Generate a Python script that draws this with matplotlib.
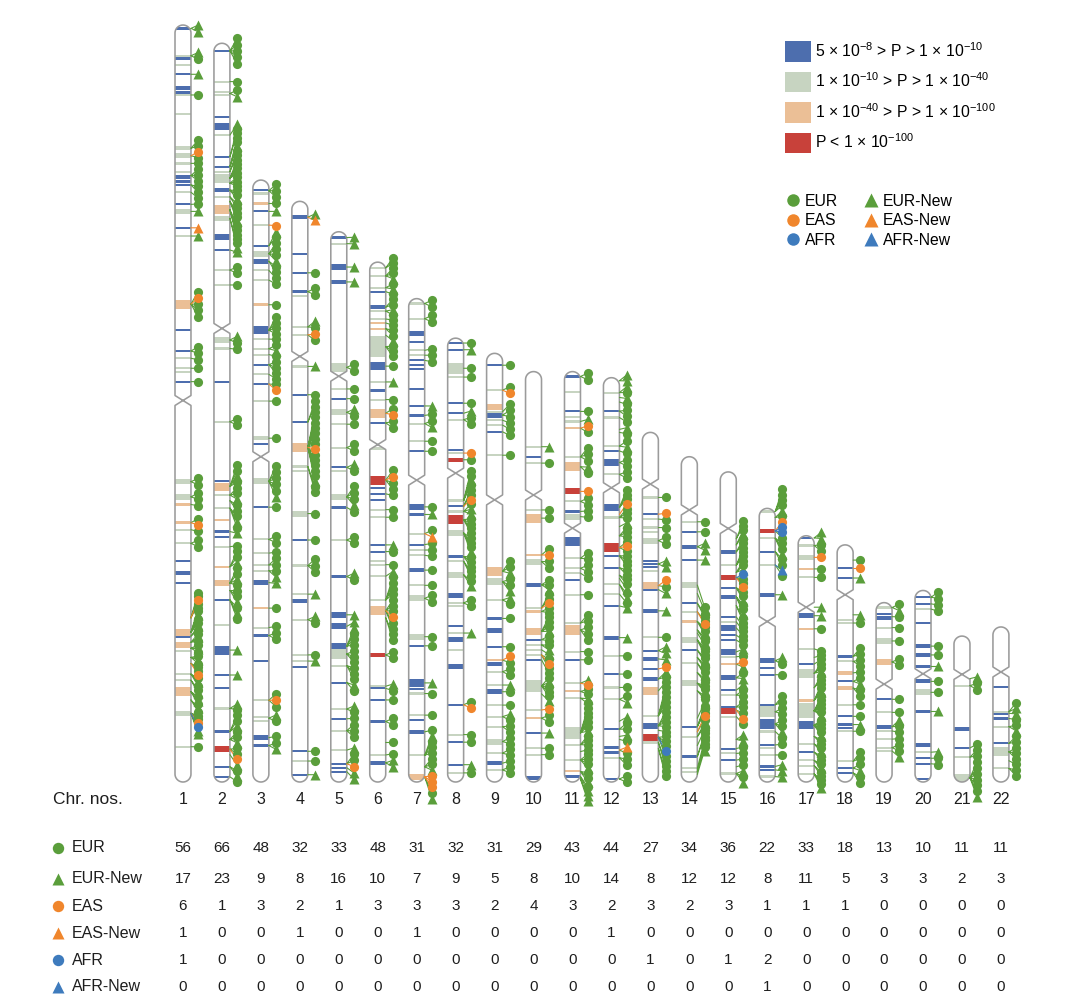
import numpy as np
import matplotlib
matplotlib.use('Agg')
import matplotlib.pyplot as plt
from matplotlib.path import Path
from matplotlib.patches import PathPatch, Patch
from matplotlib.lines import Line2D

plt.rcParams['font.family'] = ['Liberation Sans', 'DejaVu Sans']
plt.rcParams['mathtext.fontset'] = 'custom'
plt.rcParams['mathtext.rm'] = 'Liberation Sans'
plt.rcParams['mathtext.it'] = 'Liberation Sans'
plt.rcParams['mathtext.bf'] = 'Liberation Sans'

# ---------------- data ----------------
chrom_names = [str(i) for i in range(1, 23)]
chrom_length = [249, 243, 198, 191, 181, 171, 159, 146, 141, 135, 135, 133,
                115, 107, 102, 90, 81, 78, 59, 63, 48, 51]
centromere = [123.5, 93.8, 91, 51, 47.5, 60, 59.7, 44.4, 48.2, 40.6, 51.5, 36.2,
              17, 17.5, 18.6, 37.2, 23.5, 16.4, 26.8, 27.4, 12.6, 14.8]

# bands: (position Mb from pter, P-category[, width Mb])
bands = [
 [(1.1,'b',1.0),(10.1,'g'),(11.0,'b'),(13.2,'g'),(16.2,'b'),(20.6,'b',1.4),(22.2,'b',1.2),(23.0,'g'),(29.4,'g'),
  (40.5,'g',1.5),(43,'g',1.5),(45.5,'g',1.0),(48.3,'g'),(50.0,'b',1.5),(51.5,'b',1.2),(52.6,'b'),(54.8,'g'),(59,'b'),
  (61.3,'g',1.5),(66.7,'b'),(69.4,'g'),(91.8,'p',3),(100.3,'b'),(107.2,'b'),(109.6,'g'),(112.9,'g'),(114,'g'),(117.3,'b'),
  (150.2,'g',1.8),(155.2,'g',1.8),(157.7,'p'),(163.7,'p',1.0),(166,'g'),(170.5,'g'),(176.3,'b'),(180.2,'b',1.2),(183.5,'b'),
  (199.8,'p',2.5),(201.3,'b'),(203.9,'p',2),(206,'g'),(213.5,'g'),(215.5,'g'),(219.3,'p',3),(226.4,'g',1.8),(237.4,'g')],
 [(2.5,'b'),(12.6,'g'),(16.1,'g'),(17,'g'),(24.2,'b'),(27.4,'b',2.5),(30.2,'g'),(37.3,'b'),(40.6,'b'),(42.2,'g'),(44.4,'g',3),
  (48.3,'b',1.2),(50.5,'g'),(54.8,'p',3),(57.6,'g',1.5),(63.6,'b',2),(68,'b'),(74.6,'g'),(79.5,'g'),(97.6,'g',2),(100.4,'g'),
  (111.3,'b'),(124.5,'g'),(143.9,'b'),(145.9,'p',2.6),(148.6,'g'),(152.9,'g'),(156.8,'p'),(160.6,'b'),(162.3,'b'),(165.6,'g'),
  (172.2,'p'),(177.6,'p',2),(183.1,'b'),(191.4,'g'),(199.6,'b',3),(207.8,'b'),(212.2,'b'),(218.8,'g'),(226.4,'b'),
  (232.2,'r',1.8),(238,'b'),(241.3,'b')],
 [(3.2,'b'),(4.4,'g'),(7.7,'p'),(10.3,'b'),(14.8,'g'),(21.6,'b'),(24.2,'g',2),(26.7,'b',1.5),(29.7,'g'),(32.9,'g'),(41,'p',1.0),
  (49.4,'b',2.5),(52.3,'g'),(55.5,'g'),(57.4,'g'),(60.7,'b'),(63.9,'g'),(67.1,'b'),(72.7,'g'),(84.9,'g',1.5),(86.9,'b'),
  (99.1,'g',2),(107.6,'b'),(118.2,'g'),(122.7,'g'),(126.6,'g'),(128.5,'g'),(132.4,'b',1.5),(140.8,'p'),(147.2,'g'),(149.8,'b'),
  (158.2,'b'),(171.1,'g'),(176.6,'g'),(177.9,'g'),(183.4,'b',1.5),(186,'b')],
 [(5.2,'b',1.5),(17.4,'b'),(23.5,'b'),(29.7,'b',1.2),(31,'g'),(41.3,'g'),(43.9,'g'),(54.3,'g'),(63.6,'b'),(72.6,'b'),(80.9,'p',3),
  (87.2,'g'),(88.7,'g'),(102.7,'g',2),(111.4,'b'),(119.8,'g'),(129.2,'g'),(131.5,'b',1.5),(137.6,'g'),(149.2,'g'),(151.2,'g'),
  (153.1,'b'),(180.9,'b'),(184.1,'g'),(188.6,'b')],
 [(1.9,'b'),(3.9,'g'),(11.6,'b',2),(16.5,'b',1.3),(44.6,'g',3),(51.7,'g'),(54.9,'b'),(59.4,'g',2),(63.3,'g'),(71,'g'),(77.5,'b'),
  (78.8,'g'),(87.2,'g',2),(90.7,'b'),(101.4,'g'),(113.4,'b',1.3),(126,'b',2),(129.8,'b',2),(136.3,'b',2),(138.9,'g',3),(142.7,'g'),
  (148.3,'b'),(157,'g'),(160.2,'b'),(164.1,'g'),(170.5,'g'),(175,'b'),(176.3,'b'),(177.6,'b')],
 [(1.9,'g'),(4.5,'g'),(8.4,'g'),(9.7,'b'),(14.8,'b',1.5),(16.1,'g'),(18.7,'g'),(20,'p'),(21.9,'p'),(27.8,'g',7),(34.2,'b',2.5),
  (39.4,'g'),(42.2,'b'),(45.2,'g'),(49.7,'p',3),(52.9,'b'),(61.3,'g'),(71.7,'r',3),(74.3,'b'),(76.2,'b'),(78.1,'b'),(81.4,'g'),
  (83.9,'g'),(93,'b'),(95.2,'b'),(98.2,'g'),(99.5,'g'),(103.3,'g'),(111.1,'g'),(114.6,'p',3),(129.2,'r',1.5),(139.5,'g'),
  (140.2,'b'),(144,'b'),(151.1,'b'),(162.1,'g'),(164.7,'b',1.2)],
 [(1.6,'g'),(6.6,'g'),(11.5,'b',1.5),(14.2,'b'),(17,'g'),(18.6,'g'),(20.3,'b'),(21.7,'b'),(23,'b'),(29.6,'b'),(35.3,'b'),
  (38.4,'b',1.2),(41.1,'g'),(46.9,'g'),(50.2,'b'),(68.5,'b',2),(71,'b'),(77.3,'g'),(80.9,'b'),(82.7,'g'),(84.4,'g'),(89.3,'b',1.5),
  (94.3,'g'),(98.6,'g',2),(111.2,'g',2),(114.2,'b'),(126.4,'b',2.5),(128.3,'b'),(129.9,'g'),(137,'g'),(138.6,'b'),(142.5,'b',1.2),
  (150.2,'g'),(157.3,'p',2)],
 [(1.6,'b'),(3.8,'b'),(9.9,'g',3.5),(12.8,'g'),(21.4,'b'),(24.7,'b'),(26.8,'g'),(36.7,'b'),(37.8,'g'),(40,'r',1.2),(53.4,'g'),
  (55.3,'b'),(57,'g'),(59.7,'r',3),(64.1,'g',2),(71.8,'b'),(73.4,'g'),(77.8,'g',2),(84.7,'b',1.5),(87.1,'g'),(88.2,'g'),(94.6,'b'),
  (97,'g'),(99.2,'b',1.5),(102.5,'g'),(108,'b',1.5),(120.6,'b'),(130.4,'g'),(132.9,'b'),(140.3,'b'),(143,'g')],
 [(3.9,'b'),(12.1,'g'),(17.6,'p',2),(19.2,'g'),(20.5,'b',1.8),(22,'g'),(23.6,'g'),(25.8,'b'),(33.5,'g'),(71.7,'p',3),(75.1,'g',2.5),
  (81.1,'g'),(87.2,'b'),(91.2,'b',1.5),(96.5,'b'),(100.9,'p'),(102.2,'b',1.5),(104.7,'g'),(109.1,'g'),(111.3,'b',1.5),(115.7,'g'),
  (119.5,'g'),(122.8,'g'),(127.7,'g',2),(131.5,'g'),(134.8,'b',1.5),(137,'g')],
 [(24.7,'g'),(28,'b'),(30.1,'g'),(45.5,'g'),(48.2,'p',3),(60.3,'p'),(62.5,'g',2),(70.1,'b',1.2),(77.8,'g'),(78.9,'p'),(85.5,'p',2.5),
  (88.2,'b'),(89.9,'g'),(91.5,'g'),(93.2,'g'),(94.8,'b'),(103.4,'g',4),(111.3,'g'),(114,'p'),(118.9,'b'),(123.9,'g'),(126,'g'),
  (133.7,'b',1.5)],
 [(1.6,'b'),(6.6,'g'),(13.1,'b'),(14.8,'g'),(16.4,'g'),(18.6,'p'),(28,'g'),(31.3,'p',3),(39.4,'r',2),(42.7,'g'),(46,'b'),
  (47.7,'g',2),(55.9,'b',3),(61.4,'g'),(64.7,'g'),(66.3,'g'),(68.5,'b'),(73.4,'g'),(82.7,'g'),(85,'p',3),(92.1,'g'),(94.8,'b'),
  (102.5,'g'),(105.2,'p'),(107.4,'g'),(118.8,'g',4),(122.7,'g'),(127.7,'g'),(131.5,'p'),(133.2,'b')],
 [(4.9,'g'),(11,'b'),(13.1,'g'),(22.5,'g'),(24.1,'b'),(27.9,'b',2),(31.8,'g'),(42.7,'b',2.5),(46,'g'),(55.9,'r',3),(58.6,'b'),
  (62.5,'b'),(68,'g'),(71.2,'g'),(75.1,'b'),(85.5,'b',1.3),(91.5,'g'),(97.5,'b'),(101.9,'g'),(105.8,'g'),(115.6,'b'),
  (121.8,'b',1.0),(123.2,'b',1.0),(125,'g'),(132,'b')],
 [(21.4,'g'),(26.9,'b'),(28.5,'g'),(31.3,'g'),(32.9,'g'),(35.6,'g',2),(42.2,'b'),(43.3,'b'),(44.4,'b'),(45.5,'g'),(50.4,'p',2.5),
  (51.9,'b'),(58.7,'b',1.5),(67.4,'g'),(71.8,'b'),(74.5,'b',1.5),(77.8,'b'),(81.1,'b',1.5),(85,'p',2.5),(93.2,'g'),(96.5,'b',2),
  (100.3,'r',2.5),(102,'g')],
 [(21.4,'g'),(24.7,'b'),(29.6,'b',1.3),(34,'b'),(42.2,'g',2),(48.2,'b'),(51,'g'),(54.2,'p'),(60.3,'g',2),(63.6,'b'),(67.9,'g'),
  (74.5,'g',2),(88.8,'b'),(92.1,'g'),(98.6,'b'),(102.5,'g'),(103.6,'g')],
 [(26.3,'b',1.3),(30.7,'g'),(34.8,'r',1.8),(38.1,'b'),(41.1,'b',1.5),(47.7,'b'),(49.3,'g'),(51.3,'b',2),(53.7,'b'),(55.3,'b'),
  (59.2,'b',2),(60.8,'g'),(63.2,'p'),(67.7,'b',1.5),(71.8,'b'),(73.4,'g'),(77.3,'b'),(78.6,'r',2),(80.5,'g'),(91,'b'),(92.6,'g'),
  (94.8,'b'),(99.2,'g')],
 [(1.0,'g'),(7.4,'r',1.5),(9.8,'g'),(14.2,'b'),(18.6,'g'),(28.4,'b',1.3),(50.1,'b',1.5),(52.6,'b'),(54.7,'b'),(64.6,'b'),
  (66.9,'g',3.5),(70.9,'b',3),(73.4,'g'),(77.8,'b'),(78.9,'g'),(81.1,'g'),(84.9,'b'),(86,'b'),(88.2,'g')],
 [(0.7,'b'),(3.2,'g'),(7.1,'g',1.5),(10.9,'p'),(13.7,'g'),(26.3,'b',1.5),(30.6,'p'),(37.2,'g'),(42.2,'b'),(45.2,'g',3),(54.2,'p'),
  (57.6,'g',5),(62.3,'b',2.5),(68.5,'g'),(71.2,'b'),(73.9,'g'),(75.6,'g'),(78.3,'g')],
 [(7.6,'b'),(10.9,'b'),(24.6,'g'),(25.7,'g'),(36.7,'b'),(38.3,'g'),(42.1,'p',1.5),(44.9,'b'),(47.1,'p',1.5),(52.6,'g'),(56.4,'b'),
  (59.1,'b'),(60.2,'b'),(61.3,'g'),(71.2,'g'),(73.4,'b'),(75,'b')],
 [(1.6,'g'),(3.8,'b'),(4.6,'b'),(5.4,'b'),(8.2,'g'),(12.6,'g',2),(19.5,'p',2),(31.8,'b'),(36.1,'g'),(40.8,'b',1.2),(42.2,'g'),
  (44.9,'g'),(47.7,'g'),(48.8,'g')],
 [(2.2,'b'),(4.4,'b'),(6.1,'g'),(10.7,'b'),(18.3,'b',1.3),(21.2,'b',1.3),(25,'b',1.3),(29.9,'b',1.3),(33.5,'g',2),(39.8,'b'),
  (50.8,'b',1.2),(53.2,'g'),(55.2,'b'),(57,'b'),(62,'b')],
 [(16.3,'g'),(30.7,'b',1.3),(36.8,'b'),(39.8,'g'),(46.6,'g',2.5)],
 [(19.7,'b'),(27.9,'g'),(28.6,'b'),(30.1,'b',1.2),(32.8,'g'),(38.3,'b'),(41.1,'g',3),(46.5,'g')],
]

# loci: (position Mb from pter, codes) E=EUR e=EUR-New S=EAS s=EAS-New A=AFR a=AFR-New
loci = [
 [(1.1,'ee'),(10.1,'eE'),(16.2,'e'),(23.0,'E'),(40.5,'EE'),(43,'SE'),(45.5,'E'),(49.5,'EEE'),(52.6,'EE'),(55,'E'),(59,'E'),
  (61.3,'e'),(66.7,'s'),(69.4,'e'),(91.8,'ESEEE'),(107.2,'EE'),(109.6,'E'),(112.9,'E'),(117.3,'E'),
  (150.2,'EE'),(155.2,'EE'),(157.7,'E'),(163.7,'ES'),(166,'E'),(170.5,'EE'),
  (195,'EESE'),(199.8,'EEeEE'),(201,'eE'),(203,'EeE'),(205,'EeE'),(208,'EeE'),(210,'EES'),(213.5,'EeE'),(215.5,'Ee'),
  (219.3,'EeE'),(222,'eE'),(226.4,'EESAee'),(237.4,'E')],
 [(2.5,'EEEEE'),(12.6,'E'),(16.5,'Ee'),(30.2,'e'),(37.3,'EE'),(40.6,'EEe'),(42.2,'EE'),(44.4,'EEEE'),(46,'EEE'),(48.3,'EEe'),
  (50.5,'EE'),(52,'EEe'),(54.8,'EEEE'),(57.6,'Ee'),(68,'e'),(74.6,'EE'),(79.5,'E'),(97.6,'eE'),(100.4,'E'),(124.5,'EE'),
  (145.8,'EEeE'),(148.6,'EEe'),(150.5,'EE'),(152.9,'EeE'),(160.6,'e'),(165.6,'E'),(172.2,'EEe'),(177.6,'EEeE'),(180,'EEe'),
  (183.1,'EeE'),(199.6,'e'),(207.8,'e'),(218.8,'eE'),(226.4,'EEe'),(229,'EEe'),(232.2,'EES'),(234,'e'),(238,'Ee'),(241.3,'E')],
 [(3.5,'EEE'),(7.7,'E'),(10.3,'e'),(14.8,'S'),(21.6,'eE'),(24.2,'EEEe'),(26.7,'EE'),(29.7,'E'),(32.9,'E'),(41,'E'),(49.4,'EEEE'),
  (52.3,'E'),(55.5,'Ee'),(57.4,'E'),(60.7,'EEE'),(63.9,'E'),(67.1,'ES'),(72.7,'E'),(84.9,'E'),(99.1,'EEEEEe'),(107.6,'E'),
  (118.2,'EE'),(122.7,'E'),(126.6,'EE'),(128.5,'Ee'),(132.4,'e'),(140.8,'E'),(147.2,'E'),(149.8,'EE'),(171.1,'ESE'),(177,'eE'),
  (183.4,'E'),(186,'Ee')],
 [(5.2,'es'),(23.5,'E'),(29.7,'EE'),(41.3,'eE'),(43.9,'SE'),(54.3,'e'),(63.6,'E'),(72.6,'EE'),(80.9,'EEEEEEESEEEEEe'),(87.2,'EE'),
  (102.7,'E'),(111.4,'E'),(119.8,'EEE'),(129.2,'e'),(137.6,'eE'),(149.2,'E'),(151.2,'e'),(180.9,'E'),(184.1,'E'),(188.6,'e')],
 [(1.9,'e'),(3.9,'e'),(11.6,'e'),(16.5,'e'),(44.6,'EE'),(51.7,'E'),(54.9,'E'),(59.4,'eE'),(63.3,'E'),(71,'EE'),(77.5,'eE'),
  (87.2,'EEEe'),(90.7,'E'),(101.4,'EE'),(113.4,'eE'),(126,'e'),(129.8,'e'),(136.3,'eEEE'),(138.9,'EEE'),(142.7,'EEE'),(148.3,'eE'),
  (157,'eE'),(160.2,'E'),(164.1,'EEE'),(170.5,'e'),(175,'EES'),(176.3,'e'),(177.6,'e')],
 [(1.9,'EE'),(4.5,'EEe'),(8.4,'Ee'),(9.7,'E'),(14.8,'EE'),(16.1,'eE'),(18.7,'E'),(20,'E'),(21.9,'EE'),(24,'e'),(27.8,'EEE'),
  (34.2,'E'),(39.4,'e'),(45.2,'E'),(49.7,'ES'),(52.9,'EE'),(71.7,'ESEE'),(76.2,'E'),(81.4,'E'),(83.9,'E'),(93,'e'),(95.2,'E'),
  (99.5,'E'),(103.3,'e'),(111.1,'EEEE'),(114.6,'EEESEE'),(117,'EE'),(129.2,'EE'),(139.5,'e'),(140.2,'E'),(144,'E'),(151.1,'EE'),
  (158,'E'),(162.1,'E'),(164.7,'ee')],
 [(1.6,'EE'),(6.6,'EE'),(17,'E'),(18.6,'E'),(20.3,'E'),(35.3,'e'),(38.4,'E'),(41.1,'Ee'),(46.9,'E'),(50.2,'E'),(68.5,'E'),(71,'e'),
  (77.3,'Es'),(80.9,'E'),(82.7,'E'),(84.4,'E'),(89.3,'E'),(94.3,'E'),(98.6,'EE'),(111.2,'E'),(114.2,'E'),(126.4,'e'),(129.9,'E'),
  (137,'E'),(142.5,'E'),(150.2,'eEEE'),(154,'EEe'),(157.3,'SSSEe')],
 [(1.6,'E'),(3.8,'e'),(9.9,'E'),(12.8,'E'),(21.4,'E'),(24.7,'e'),(26.8,'EE'),(37.8,'S'),(40,'E'),(53.4,'EEeE'),(55.3,'EES'),
  (57,'Eee'),(59.7,'EEEE'),(64.1,'EEEe'),(71.8,'EEE'),(73.4,'EE'),(77.8,'Ee'),(87.1,'EE'),(97,'e'),(120.6,'ES'),(130.4,'E'),
  (132.9,'E'),(140.3,'e'),(143,'E')],
 [(3.9,'E'),(12.1,'ES'),(19.2,'E'),(20.3,'EE'),(22,'E'),(23.6,'E'),(25.8,'E'),(33.5,'E'),(71.7,'EEe'),(75.1,'EEe'),(81.1,'eE'),
  (87.2,'E'),(96.5,'E'),(100.9,'SE'),(104.7,'EE'),(109.1,'e'),(111.3,'E'),(115.7,'E'),(119.5,'eE'),(122.8,'EE'),(127.7,'EE'),
  (131.5,'EE'),(134.8,'E'),(137,'EE')],
 [(24.7,'e'),(30.1,'E'),(45.5,'E'),(48.2,'E'),(60.3,'ES'),(62.5,'EE'),(70.1,'EEe'),(77.8,'EES'),(78.9,'EE'),(85.5,'EEEe'),
  (88.2,'EE'),(89.9,'Ee'),(91.5,'e'),(93.2,'ESE'),(94.8,'E'),(103.4,'EeEEE'),(106,'e'),(111.3,'S'),(114,'EE'),(118.9,'e'),
  (123.9,'E'),(126,'E')],
 [(1.6,'EE'),(13.1,'E'),(16.4,'e'),(18.6,'SE'),(28,'EEE'),(31.3,'eE'),(39.4,'S'),(42.7,'EE'),(46,'E'),(47.7,'E'),(61.4,'EE'),
  (64.7,'EE'),(66.3,'E'),(73.4,'E'),(82.7,'EE'),(85,'EEE'),(92.1,'E'),(94.8,'E'),(102.5,'eS'),(105.2,'EE'),(107.4,'eE'),
  (118.8,'EEEEEe'),(122.7,'EEE'),(125,'E'),(127.7,'EEEe'),(131.5,'EEe'),(133.2,'Ee'),(134,'ee')],
 [(1,'ee'),(4.9,'eE'),(6.5,'e'),(8,'E'),(11,'EE'),(13.1,'E'),(17,'e'),(18,'E'),(22.5,'Ee'),(24.1,'E'),(27.9,'EE'),(31.8,'EE'),
  (42.7,'EEE'),(45,'S'),(46,'EEE'),(49,'e'),(52,'EEE'),(55.9,'ESE'),(58.6,'EEE'),(62.5,'EE'),(65,'EE'),(66,'e'),(68,'Ee'),
  (71.2,'E'),(75.1,'e'),(85.5,'e'),(91.5,'E'),(97.5,'E'),(101.9,'E'),(105.8,'Ee'),(113,'e'),(115.6,'EE'),(118,'e'),(119,'E'),
  (122.5,'sE'),(125,'EE'),(132,'EE')],
 [(21.4,'E'),(26.9,'S'),(28.5,'E'),(31.3,'E'),(35.6,'EE'),(43.3,'ee'),(50.4,'SE'),(51.7,'e'),(58.7,'e'),(67.4,'E'),(71.8,'ee'),
  (74.5,'e'),(77.8,'S'),(81.1,'eE'),(85,'E'),(93.2,'EEEEE'),(96.5,'EEEE'),(98,'E'),(100.3,'EEEAE'),(102,'EE'),(104,'EE')],
 [(21.4,'E'),(24.7,'E'),(29.6,'ee'),(34,'e'),(42.2,'E'),(45,'e'),(48.2,'EE'),(51,'ES'),(54.2,'EEe'),(57,'EE'),(58,'e'),
  (60.3,'EEE'),(63.6,'Ee'),(66,'EE'),(67.9,'Ee'),(71,'EE'),(74.5,'EEe'),(77,'EE'),(86,'e'),(88.8,'EEE'),(90.5,'SE'),(92.1,'eE'),
  (95,'E'),(98.6,'EE'),(102.5,'E'),(103.6,'EE'),(104.5,'e')],
 [(22,'EE'),(24,'Ee'),(26.3,'EE'),(30.7,'EEE'),(33,'EEe'),(34.8,'AEES'),(38.1,'EEe'),(41.1,'EEe'),(44,'EE'),(47.7,'E'),(49.3,'E'),
  (51.3,'E'),(53.7,'E'),(55.3,'E'),(59.2,'e'),(60.8,'E'),(63.2,'Se'),(67.7,'Ee'),(71.8,'e'),(73.4,'EE'),(77.3,'EE'),(78.4,'ES'),
  (80.5,'E'),(88,'ee'),(91,'E'),(92.6,'E'),(94.8,'E'),(97,'E'),(99.2,'eEe')],
 [(1,'EEEE'),(3,'eE'),(7.4,'SAAE'),(9.8,'EEe'),(14.2,'EE'),(18.6,'aE'),(28.4,'e'),(50.1,'eE'),(54.7,'E'),(64.6,'EE'),(66.9,'EE'),
  (70.9,'EEe'),(73.4,'E'),(77.8,'E'),(81.1,'E'),(84.9,'e'),(86,'e'),(88.2,'e')],
 [(0.7,'ee'),(3.2,'EE'),(7.1,'S'),(10.9,'E'),(13.7,'E'),(23.5,'e'),(26.3,'e'),(30.6,'E'),(37.2,'E'),(40,'E'),(42.2,'E'),
  (45.2,'EEe'),(50,'EE'),(54.2,'EEe'),(57.6,'EEEEEe'),(62.3,'EEEEe'),(66,'EE'),(68.5,'Ee'),(71.2,'EE'),(73.9,'Ee'),(75.6,'EE'),
  (78.3,'EEe')],
 [(5,'E'),(7.6,'S'),(10.9,'e'),(23,'e'),(25.7,'E'),(36.7,'EE'),(38.3,'EE'),(42.1,'E'),(44.9,'Ee'),(47.1,'EE'),(52.6,'E'),(56.4,'E'),
  (59.1,'e'),(61.3,'E'),(71.2,'EE'),(73.4,'Ee'),(75,'EE')],
 [(1.6,'Ee'),(4.6,'E'),(8.2,'E'),(12.6,'E'),(19.5,'EE'),(31.8,'E'),(36.1,'E'),(40.8,'eE'),(42.2,'E'),(44.9,'E'),(47.7,'EE'),
  (48.8,'e')],
 [(2.2,'EE'),(4.4,'E'),(6.1,'E'),(18.3,'E'),(21.2,'E'),(25,'e'),(29.9,'E'),(33.5,'E'),(39.8,'e'),(53.2,'e'),(55.2,'E'),(57,'E')],
 [(14,'e'),(16.3,'EE'),(36.8,'E'),(39.8,'EE'),(46.6,'EEEEEEe')],
 [(27.9,'Ee'),(28.4,'e'),(30.1,'E'),(32.8,'Ee'),(38.3,'EE'),(41.1,'EEE'),(44,'E'),(46.5,'EE')],
]

count_labels = ['EUR', 'EUR-New', 'EAS', 'EAS-New', 'AFR', 'AFR-New']
eur = [56, 66, 48, 32, 33, 48, 31, 32, 31, 29, 43, 44, 27, 34, 36, 22, 33, 18, 13, 10, 11, 11]
eur_new = [17, 23, 9, 8, 16, 10, 7, 9, 5, 8, 10, 14, 8, 12, 12, 8, 11, 5, 3, 3, 2, 3]
eas = [6, 1, 3, 2, 1, 3, 3, 3, 2, 4, 3, 2, 3, 2, 3, 1, 1, 1, 0, 0, 0, 0]
eas_new = [1, 0, 0, 1, 0, 0, 1, 0, 0, 0, 0, 1, 0, 0, 0, 0, 0, 0, 0, 0, 0, 0]
afr = [1, 0, 0, 0, 0, 0, 0, 0, 0, 0, 0, 0, 1, 0, 1, 2, 0, 0, 0, 0, 0, 0]
afr_new = [0, 0, 0, 0, 0, 0, 0, 0, 0, 0, 0, 0, 0, 0, 0, 1, 0, 0, 0, 0, 0, 0]
counts = [eur, eur_new, eas, eas_new, afr, afr_new]

p_labels = ['5 × 10$^{-8}$ > P > 1 × 10$^{-10}$',
            '1 × 10$^{-10}$ > P > 1 × 10$^{-40}$',
            '1 × 10$^{-40}$ > P > 1 × 10$^{-100}$',
            'P < 1 × 10$^{-100}$']

# ---------------- style ----------------
BAND_COL = {'b': '#4d6eae', 'g': '#c7d4c1', 'p': '#ebbf96', 'r': '#c8413a'}
GREEN, ORANGE, BLUE = '#5a9e3b', '#f0862c', '#3e7bbd'
CODE = {'E': ('o', GREEN), 'e': ('^', GREEN), 'S': ('o', ORANGE),
        's': ('^', ORANGE), 'A': ('o', BLUE), 'a': ('^', BLUE)}
OUTLINE = '#9b9b9b'
TXT = '#1e1e1e'
HW = 0.205      # half width of chromosome (x units)
CAP = 2.63      # cap height (Mb)
PINCH = 1.64    # centromere half-height
MX = 0.39       # marker column offset

fig = plt.figure(figsize=(10.8, 10.08), dpi=100)
ax = fig.add_axes([0, 0, 1, 1])
ax.set_xlim(-3.698, 24.03)
ax.set_ylim(-74.34, 257.24)
ax.axis('off')


def chrom_path(xc, L, cen):
    yc = L - cen
    t = np.linspace(0, np.pi, 28)
    top = np.column_stack([xc + HW * np.cos(t), (L - CAP) + CAP * np.sin(t)])
    p_arm = np.vstack([[xc + HW, yc + PINCH], top, [xc - HW, yc + PINCH], [xc, yc]])
    bot = np.column_stack([xc - HW * np.cos(t), CAP - CAP * np.sin(t)])
    q_arm = np.vstack([[xc, yc], [xc - HW, yc - PINCH], bot, [xc + HW, yc - PINCH]])
    verts, codes = [], []
    for arm in (p_arm, q_arm):
        verts += list(arm) + [arm[0]]
        codes += [Path.MOVETO] + [Path.LINETO] * (len(arm) - 1) + [Path.CLOSEPOLY]
    return Path(np.array(verts), codes)


def spread(desired, base=2.2, slope=0.025, gmin=1.0):
    d = np.asarray(desired, float)
    blocks = [[i] for i in range(len(d))]

    def lay(b):
        n = len(b)
        g = max(gmin, base - slope * n)
        c = d[b].mean()
        s = c - g * (n - 1) / 2
        return s, s + g * (n - 1), g

    changed = True
    while changed and len(blocks) > 1:
        changed = False
        new = [blocks[0]]
        for b in blocks[1:]:
            s1, e1, g1 = lay(new[-1])
            s2, e2, g2 = lay(b)
            if s2 - e1 < max(g1, g2):
                new[-1] = new[-1] + b
                changed = True
            else:
                new.append(b)
        blocks = new
    pos = np.empty(len(d))
    for b in blocks:
        s, e, g = lay(b)
        pos[b] = s + g * np.arange(len(b))
    return pos


for i, name in enumerate(chrom_names):
    xc = i + 1
    L = chrom_length[i]
    path = chrom_path(xc, L, centromere[i])
    fill = PathPatch(path, facecolor='white', edgecolor='none', zorder=1)
    ax.add_patch(fill)

    bl = bands[i]
    pos = np.array([b[0] for b in bl])
    cats = [b[1] for b in bl]
    wid = np.array([b[2] if len(b) > 2 else 0.7 for b in bl])
    bars = ax.bar(np.full(len(bl), xc), wid, bottom=L - pos - wid / 2, width=2 * HW,
                  color=[BAND_COL[c] for c in cats], linewidth=0, zorder=2)
    for bp in bars:
        bp.set_clip_path(fill)
    ax.add_patch(PathPatch(path, facecolor='none', edgecolor=OUTLINE, lw=1.15,
                           joinstyle='round', zorder=3))

    # markers
    m_locus, m_code = [], []
    for locus, codes in sorted(loci[i], key=lambda t: t[0]):
        for c in codes:
            m_locus.append(locus)
            m_code.append(c)
    disp = spread(m_locus)
    m_locus = np.array(m_locus)
    for col, zo in ((GREEN, 4), (ORANGE, 4.2), (BLUE, 4.4)):
        sel = [k for k, c in enumerate(m_code) if CODE[c][1] == col]
        if not sel:
            continue
        xs, ys = [], []
        for k in sel:
            xs += [xc + HW, xc + MX, np.nan]
            ys += [L - m_locus[k], L - disp[k], np.nan]
        ax.plot(xs, ys, color=col, lw=0.8, zorder=zo, solid_capstyle='round')
    for col, zo in ((GREEN, 5), (ORANGE, 5.2), (BLUE, 5.4)):
        for mk, ms in (('o', 6.6), ('^', 7.0)):
            sel = [k for k, c in enumerate(m_code) if CODE[c] == (mk, col)]
            if sel:
                ax.plot(np.full(len(sel), xc + MX), L - disp[sel], ls='none', marker=mk,
                        ms=ms, mfc=col, mec='none', zorder=zo)

    ax.text(xc, -5.9, name, ha='center', va='center', fontsize=11.5, color=TXT)

ax.text(-2.34, -5.9, 'Chr. nos.', ha='left', va='center', fontsize=12.5, color=TXT)

# count table
row_y = [-21.7, -31.9, -40.8, -49.7, -58.6, -67.4]
row_style = [('o', GREEN), ('^', GREEN), ('o', ORANGE), ('^', ORANGE), ('o', BLUE), ('^', BLUE)]
for r, (lab, vals) in enumerate(zip(count_labels, counts)):
    mk, col = row_style[r]
    ax.plot([-2.21], [row_y[r]], ls='none', marker=mk, ms=8.2 if mk == 'o' else 8.6,
            mfc=col, mec='none')
    ax.text(-1.86, row_y[r], lab, ha='left', va='center', fontsize=11.5, color=TXT)
    for i, v in enumerate(vals):
        ax.text(i + 1, row_y[r], str(v), ha='center', va='center', fontsize=11, color=TXT)

# legends
p_handles = [Patch(facecolor=BAND_COL[c], edgecolor='none') for c in 'bgpr']
fig.legend(p_handles, p_labels, loc='upper left', bbox_to_anchor=(0.7265, 0.9593),
           frameon=False, fontsize=11.3, handlelength=1.66, handleheight=1.62,
           handletextpad=0.3, labelspacing=0.62, borderpad=0, borderaxespad=0)
m_handles = [Line2D([], [], ls='none', marker=CODE[c][0], mfc=CODE[c][1], mec='none',
                    ms=9 if CODE[c][0] == 'o' else 9.5) for c in 'ESAesa']
fig.legend(m_handles, count_labels[0::2] + count_labels[1::2], loc='upper left',
           bbox_to_anchor=(0.7278, 0.808), ncol=2, frameon=False, fontsize=11.3,
           handlelength=0.9, handletextpad=0.3, columnspacing=1.64, labelspacing=0.29,
           borderpad=0, borderaxespad=0)

fig.savefig('out.png', dpi=100)
